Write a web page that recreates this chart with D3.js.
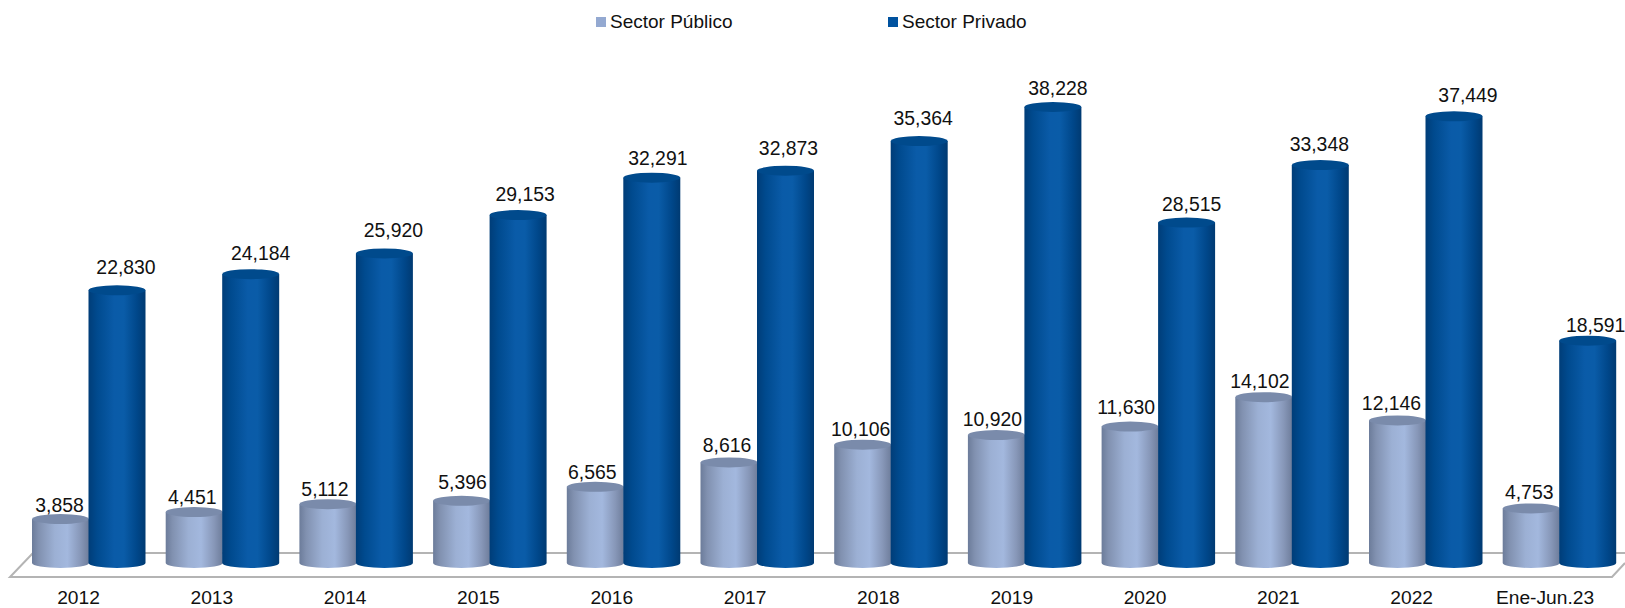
<!DOCTYPE html>
<html><head><meta charset="utf-8">
<style>html,body{margin:0;padding:0;background:#fff}svg{display:block;font-family:"Liberation Sans",Arial,sans-serif}</style>
<script src="https://d3js.org/d3.v7.min.js"></script></head>
<body><svg id="c" width="1625" height="608"></svg>
<script>
const categories=["2012","2013","2014","2015","2016","2017","2018","2019","2020","2021","2022","Ene-Jun.23"];
const sectorPublico=[3858,4451,5112,5396,6565,8616,10106,10920,11630,14102,12146,4753];
const sectorPrivado=[22830,24184,25920,29153,32291,32873,35364,38228,28515,33348,37449,18591];
const seriesNames=["Sector Público","Sector Privado"];

const svg=d3.select("#c");
const defs=svg.append("defs");
function grad(id,stops){
  const g=defs.append("linearGradient").attr("id",id).attr("x1","0").attr("x2","1").attr("y1","0").attr("y2","0");
  stops.forEach(([o,c])=>g.append("stop").attr("offset",o).attr("stop-color",c));
}
grad("gPub",[[0,"#6c7c9a"],[.12,"#8191b0"],[.4,"#9cb0d4"],[.62,"#a3b8de"],[.85,"#8797b8"],[1,"#6e7d9b"]]);
grad("gPriv",[[0,"#003d78"],[.15,"#004a8e"],[.45,"#0a5ba8"],[.62,"#0a5ca8"],[.85,"#00478a"],[1,"#003a72"]]);
const floorBlur=defs.append("filter").attr("id","soft").attr("x","-5%").attr("y","-50%").attr("width","110%").attr("height","200%");
floorBlur.append("feGaussianBlur").attr("stdDeviation",.6);

const x0=d3.scaleBand().domain(categories).range([32,1636.4]).paddingInner(0).paddingOuter(0);
const barW=57;
const yBase=562, yTop=107;
const y=d3.scaleLinear().domain([0,38228]).range([yBase,yTop]);
const pubShift=3, ry=5, floorY=568-ry;
const labelX=d3.scalePoint().domain(categories).range([78,1544.5]);

// hand-placed label offsets of the reference, in pixels
const pubNudgeX=[1,0,-1,3,-1,0,0,-2,-2,-2,-4,0];
const pubNudgeY=[2,1,1,-3,1,-1,0,0,-4,0,-1,0];
const privNudgeX=[1,2,1,-1,-2,-5,-4,-3,-3,-9,6,0];
const privNudgeY=[-2,0,-2,0,1,-2,-2,2,2,0,0,5];

const floor=svg.append("g").attr("filter","url(#soft)");
floor.append("path")
  .attr("d","M33,553 L1625,553 M33,553 L10,577 L1612,577 L1625,563")
  .attr("fill","none").attr("stroke","#b4b4b4").attr("stroke-width",2);

function cyl(g,cx,topY,fill,cap){
  const L=cx-barW/2,R=cx+barW/2,r=barW/2;
  g.append("path").attr("fill",`url(#${fill})`)
    .attr("d",`M${L},${topY} L${L},${floorY} A${r},${ry} 0 0 0 ${R},${floorY} L${R},${topY} Z`);
  g.append("ellipse").attr("cx",cx).attr("cy",topY).attr("rx",r).attr("ry",ry).attr("fill",cap);
}
const bars=svg.append("g");
categories.forEach((c,i)=>{
  const px=x0(c)+barW/2, qx=x0(c)+barW*1.5-0.5;
  cyl(bars,px,y(sectorPublico[i])+pubShift,"gPub","#7a8bab");
  cyl(bars,qx,y(sectorPrivado[i]),"gPriv","#004a8c");
});

const fmt=d3.format(",");
const labels=svg.append("g").attr("font-size",19.4).attr("fill","#111").attr("text-anchor","middle");
categories.forEach((c,i)=>{
  const px=x0(c)+barW/2, qx=x0(c)+barW*1.5-0.5;
  labels.append("text").attr("x",px-2+pubNudgeX[i]).attr("y",y(sectorPublico[i])+pubShift-9+pubNudgeY[i]).text(fmt(sectorPublico[i]));
  labels.append("text").attr("x",qx+8+privNudgeX[i]).attr("y",y(sectorPrivado[i])-14+privNudgeY[i]).text(fmt(sectorPrivado[i]));
});

const ax=svg.append("g").attr("transform","translate(0,587)")
  .call(d3.axisBottom(labelX).tickSize(0).tickPadding(3));
ax.select(".domain").remove();
ax.selectAll("text").attr("font-size",19.2).attr("fill","#111").attr("font-family","'Liberation Sans',Arial,sans-serif");

const leg=svg.append("g");
[[596,"#94a9d1"],[888,"#00529f"]].forEach(([lx,col],i)=>{
  leg.append("rect").attr("x",lx).attr("y",17).attr("width",10).attr("height",10).attr("fill",col);
  leg.append("text").attr("x",lx+14).attr("y",28).attr("font-size",19).attr("fill","#111").text(seriesNames[i]);
});
</script></body></html>
